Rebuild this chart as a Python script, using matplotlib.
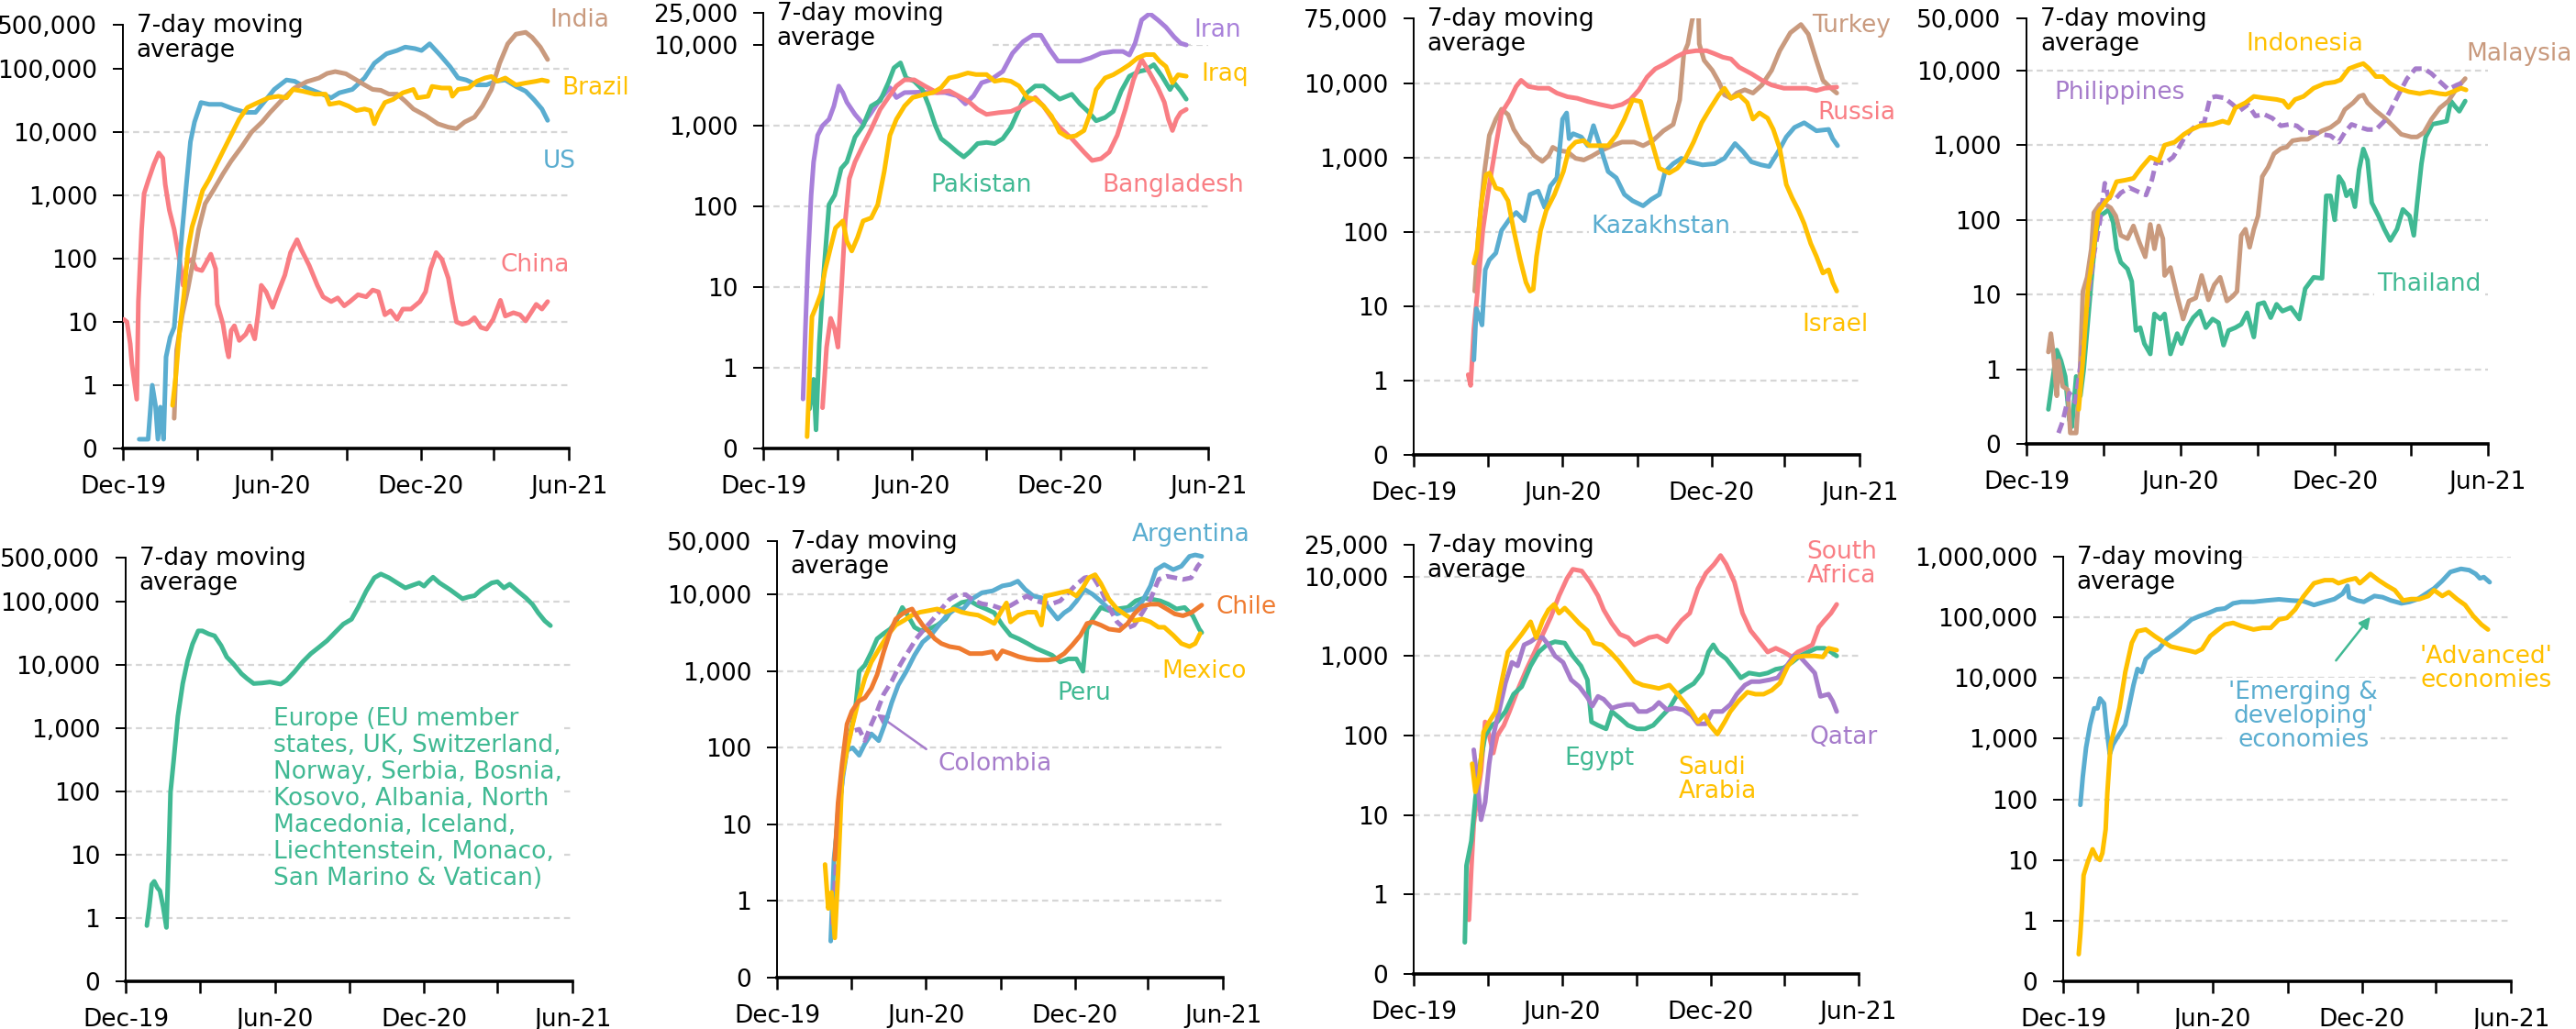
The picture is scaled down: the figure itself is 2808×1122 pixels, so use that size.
import matplotlib
matplotlib.use("Agg")
import matplotlib.pyplot as plt
import pandas as pd

plt.rcParams["font.family"] = ["DejaVu Sans"]
FS = 19

START = pd.Timestamp("2019-12-01")
END = pd.Timestamp("2021-06-01")

PINK = "#F97E84"
BLUE = "#5AADD0"
GOLD = "#FFC000"
TAN = "#C99A7E"
GREEN = "#40B993"
PURPLE = "#A67CCB"
ORANGE = "#EF7B30"
GRID = "#D6D6D6"

# ---------------------------------------------------------------------------
# Data: (days since 1 Dec 2019, 7-day average of new cases)
# ---------------------------------------------------------------------------

CHINA = [(1, 11), (5, 10), (9, 4.5), (11, 2.2), (17, 0.6), (19, 21), (23, 290), (26, 1070), (31, 1700),
         (38, 3100), (44, 4700), (49, 3900), (52, 1500), (57, 590), (63, 290), (70, 88), (74, 38), (79, 88),
         (85, 98), (90, 69), (97, 65), (108, 118), (114, 69), (116, 19), (123, 9.2), (128, 3.6), (130, 2.8),
         (133, 7.3), (137, 8.7), (143, 5.1), (151, 6.4), (156, 8.7), (162, 5.4), (166, 13), (170, 38),
         (176, 30), (184, 17), (191, 30), (199, 55), (206, 125), (214, 200), (219, 141), (229, 78), (239, 38),
         (246, 25), (256, 21), (264, 24), (272, 18), (279, 21), (289, 27), (299, 25), (307, 32), (314, 30),
         (322, 13), (329, 15), (337, 11), (344, 16), (354, 16), (365, 21), (372, 30), (378, 69), (385, 125),
         (392, 98), (400, 49), (405, 21), (410, 10), (417, 9.2), (425, 9.8), (432, 11.7), (440, 8.2),
         (447, 7.7), (455, 11), (464, 22), (470, 12.4), (480, 14), (488, 13), (495, 10.4), (503, 15),
         (508, 19), (515, 16), (522, 21)]
US = [(20, 0.14), (31, 0.14), (36, 1.0), (40, 0.48), (43, 0.14), (46, 0.45), (50, 0.14), (53, 2.8), (58, 5.7),
      (63, 8.2), (68, 49), (73, 290), (78, 1500), (83, 7100), (88, 14500), (96, 29500), (106, 27600),
      (121, 27600), (136, 23300), (151, 20600), (163, 20600), (173, 29500), (186, 47500), (201, 67000),
      (211, 64000), (226, 50000), (241, 42000), (256, 35000), (266, 42000), (282, 47500), (297, 72000),
      (309, 123000), (324, 174000), (337, 196000), (347, 222000), (359, 210000), (367, 196000),
      (377, 250000), (390, 165000), (402, 109000), (412, 72000), (422, 67000), (435, 56000), (447, 56000),
      (458, 64000), (470, 67000), (483, 53000), (495, 44500), (505, 33000), (515, 23300), (522, 15400)]
INDIA = [(63, 0.3), (66, 3.6), (73, 13), (80, 34), (86, 88), (93, 290), (101, 740), (111, 1200), (123, 2200),
         (133, 3500), (146, 5900), (158, 10000), (171, 14500), (181, 20600), (196, 33000), (211, 50000),
         (226, 63000), (241, 72000), (251, 85000), (261, 91000), (274, 84000), (287, 67000), (297, 56000),
         (307, 47500), (317, 46000), (327, 40000), (337, 40000), (347, 31000), (357, 23300), (372, 18300),
         (387, 13600), (400, 12000), (410, 11400), (420, 14500), (432, 17300), (442, 26000), (453, 47500),
         (463, 123000), (473, 250000), (483, 355000), (495, 380000), (503, 316000), (513, 222000),
         (522, 141000)]
BRAZIL = [(61, 0.48), (65, 1.4), (70, 8.2), (75, 27), (80, 141), (85, 320), (90, 520), (98, 1200), (106, 1800),
          (113, 2750), (123, 5000), (133, 9000), (143, 16200), (153, 24600), (166, 29500), (179, 35000),
          (191, 37000), (201, 35000), (209, 47500), (221, 44500), (236, 40000), (249, 40000), (254, 27600),
          (266, 29500), (277, 26000), (287, 22000), (297, 23300), (304, 22000), (309, 13600), (314, 19500),
          (322, 29500), (332, 33000), (344, 42000), (357, 47500), (362, 35000), (375, 37000), (380, 53000),
          (392, 50000), (402, 50000), (405, 37000), (412, 47500), (425, 50000), (435, 64000), (445, 72000),
          (453, 76000), (460, 64000), (470, 72000), (483, 56000), (495, 60000), (508, 64000), (515, 67000),
          (522, 64000)]

IRAN = [(49, 0.41), (52, 3.2), (55, 21), (59, 138), (62, 355), (67, 760), (73, 1000), (81, 1200), (87, 1750),
        (93, 3100), (98, 2570), (103, 1950), (113, 1380), (123, 1050), (133, 1450), (144, 2130), (156, 2950),
        (164, 2230), (174, 2570), (194, 2600), (209, 2570), (224, 2570), (239, 2340), (249, 1860), (259, 2340),
        (269, 3400), (280, 3700), (295, 4700), (307, 7900), (320, 11000), (332, 13200), (342, 13200),
        (353, 8700), (363, 6300), (375, 6300), (390, 6300), (403, 6900), (416, 7900), (431, 8300), (443, 8300),
        (451, 7500), (458, 10500), (466, 20400), (476, 24500), (486, 20400), (496, 16600), (506, 12600),
        (514, 10500), (521, 10000)]
IRAQ = [(54, 0.14), (57, 0.79), (60, 4.3), (65, 5.7), (71, 8.3), (76, 16), (83, 31), (89, 54), (98, 66),
        (103, 37), (109, 28), (116, 41), (123, 66), (133, 72), (141, 105), (149, 270), (156, 760), (164, 1200),
        (174, 1750), (184, 2230), (199, 2450), (209, 2570), (219, 2950), (229, 3900), (239, 4100), (252, 4500),
        (262, 4300), (275, 4300), (285, 3550), (295, 3700), (305, 3550), (315, 3100), (325, 2230), (335, 2130),
        (345, 1750), (355, 1320), (365, 830), (375, 720), (385, 750), (395, 870), (403, 1450), (410, 2800),
        (421, 3900), (431, 4270), (441, 4900), (451, 5700), (461, 6900), (471, 7600), (481, 7600), (488, 6300),
        (496, 5400), (504, 3400), (511, 4270), (521, 4100)]
PAKISTAN = [(57, 0.31), (62, 0.72), (65, 0.17), (69, 2), (74, 13), (81, 105), (88, 138), (96, 295), (103, 355),
            (113, 720), (123, 1000), (133, 1750), (144, 2040), (154, 3400), (161, 5200), (169, 6000),
            (176, 3900), (186, 3550), (196, 2800), (204, 1750), (212, 1000), (219, 690), (229, 575), (239, 470),
            (247, 410), (254, 470), (264, 600), (275, 620), (285, 600), (295, 690), (305, 950), (315, 1590),
            (325, 2570), (335, 3100), (345, 3100), (355, 2570), (365, 2130), (380, 2450), (390, 1860),
            (400, 1500), (410, 1150), (421, 1260), (431, 1500), (441, 2700), (451, 4100), (463, 4700),
            (471, 4900), (481, 5700), (491, 4100), (501, 2800), (506, 3400), (514, 2700), (521, 2130)]
BANGLADESH = [(73, 0.32), (78, 1.8), (83, 4.1), (88, 3), (92, 1.8), (96, 8.3), (101, 66), (106, 220),
              (113, 355), (123, 575), (133, 910), (144, 1590), (154, 2230), (164, 3100), (174, 3700),
              (186, 3700), (199, 3100), (214, 2570), (229, 2700), (244, 2230), (254, 1950), (264, 1590),
              (275, 1380), (290, 1450), (305, 1500), (315, 1660), (325, 1950), (335, 2230), (345, 1750),
              (355, 1260), (365, 950), (380, 690), (395, 470), (405, 370), (416, 390), (426, 470), (436, 760),
              (446, 1590), (456, 3700), (466, 6600), (476, 4500), (486, 2950), (494, 1950), (499, 1200),
              (504, 870), (509, 1200), (514, 1450), (521, 1590)]

RUSSIA = [(67, 1.2), (70, 0.86), (74, 5), (78, 14), (85, 105), (93, 435), (101, 1450), (108, 4000), (118, 6000),
          (126, 9100), (132, 11000), (141, 9100), (153, 8600), (166, 8600), (176, 7400), (189, 6600),
          (201, 6300), (214, 5700), (229, 5200), (244, 4800), (256, 5200), (266, 6000), (277, 8200),
          (287, 12200), (297, 15700), (309, 18300), (322, 22500), (334, 26200), (347, 27500), (360, 27500),
          (370, 25000), (380, 22500), (390, 21300), (400, 16500), (415, 13500), (428, 11000), (440, 9500),
          (455, 8600), (470, 8600), (483, 8600), (495, 8000), (505, 8600), (520, 8900)]
TURKEY = [(75, 16), (80, 105), (87, 650), (93, 2000), (101, 3300), (108, 4500), (116, 3800), (123, 2400),
          (133, 1620), (141, 1380), (148, 1070), (158, 890), (166, 1070), (171, 1380), (178, 1250), (189, 1200),
          (199, 980), (209, 930), (219, 1050), (231, 1250), (244, 1450), (256, 1620), (271, 1620), (282, 1450),
          (294, 1700), (307, 2300), (319, 2800), (327, 6000), (332, 25000), (337, 34000), (342, 69000),
          (346, 100000), (350, 100000), (351, 34000), (357, 20400), (367, 15000), (375, 10500), (382, 7000),
          (390, 6300), (397, 7400), (407, 8200), (417, 7400), (428, 9500), (440, 15000), (450, 27500),
          (463, 48000), (476, 62000), (485, 46000), (495, 20400), (503, 11000), (513, 8600), (520, 7400)]
KAZAKHSTAN = [(74, 1.9), (77, 9.3), (80, 7.6), (84, 5.6), (88, 31), (93, 42), (101, 52), (108, 105), (118, 150),
              (126, 183), (136, 142), (143, 320), (153, 355), (161, 215), (168, 415), (176, 535), (183, 3300),
              (188, 4000), (191, 1800), (196, 2100), (206, 1900), (214, 1450), (221, 2700), (229, 1450),
              (239, 650), (249, 535), (259, 320), (269, 263), (282, 225), (292, 275), (302, 320), (309, 650),
              (319, 830), (329, 980), (339, 880), (355, 800), (370, 830), (382, 980), (395, 1550), (405, 1200),
              (415, 880), (427, 800), (437, 760), (448, 1200), (458, 1900), (468, 2550), (480, 2950),
              (495, 2300), (510, 2400), (515, 1800), (521, 1450)]
ISRAEL = [(74, 38), (78, 57), (83, 236), (89, 590), (93, 620), (101, 390), (108, 370), (116, 263), (123, 105),
          (131, 42), (138, 21), (143, 16), (147, 17), (151, 47), (156, 105), (163, 195), (173, 320), (184, 650),
          (191, 1320), (199, 1620), (209, 1700), (216, 1450), (229, 1450), (239, 1450), (249, 2000),
          (259, 3300), (269, 6000), (279, 5700), (287, 2700), (294, 1450), (302, 720), (314, 620), (324, 720),
          (334, 980), (344, 1620), (354, 2950), (365, 4700), (375, 7000), (382, 8600), (390, 6300), (400, 7000),
          (410, 5500), (417, 3300), (425, 4000), (435, 3400), (442, 2400), (450, 1320), (458, 435), (465, 290),
          (473, 195), (480, 129), (488, 70), (495, 47), (503, 28), (510, 31), (515, 21), (520, 16)]

INDONESIA = [(62, 0.29), (67, 1.3), (73, 12), (79, 34), (85, 125), (93, 170), (100, 210), (107, 325),
             (117, 340), (127, 360), (137, 510), (147, 690), (157, 620), (164, 1000), (176, 1100), (187, 1400),
             (196, 1620), (206, 1820), (221, 1900), (233, 2100), (240, 1980), (248, 3160), (260, 3700),
             (270, 4500), (282, 4300), (297, 4100), (305, 3900), (311, 3200), (319, 4100), (329, 4500),
             (341, 5800), (354, 6700), (366, 7000), (373, 7500), (383, 10600), (393, 11700), (400, 12400),
             (407, 10600), (415, 8300), (423, 8300), (432, 6700), (442, 5800), (454, 5200), (467, 4900),
             (479, 5200), (491, 4900), (498, 4800), (506, 5200), (516, 5800), (522, 5500)]
PHILIPPINES = [(38, 0.14), (43, 0.2), (51, 0.48), (58, 0.36), (65, 1.3), (73, 8.2), (80, 34), (87, 92),
               (93, 310), (97, 205), (105, 187), (112, 230), (122, 270), (132, 240), (142, 215), (149, 345),
               (154, 600), (164, 570), (174, 690), (181, 930), (188, 1290), (196, 1620), (203, 1900),
               (211, 2000), (218, 4300), (225, 4500), (235, 4300), (245, 3500), (253, 2880), (263, 3500),
               (272, 2460), (282, 2600), (292, 2300), (302, 1820), (312, 1900), (321, 1820), (331, 1480),
               (341, 1480), (351, 1400), (361, 1340), (371, 1100), (378, 1480), (386, 1900), (395, 1750),
               (405, 1620), (415, 1620), (425, 2100), (432, 2880), (442, 4800), (452, 7800), (462, 10600),
               (472, 10600), (481, 9100), (491, 7100), (501, 5600), (511, 6400), (521, 7100)]
MALAYSIA = [(26, 1.7), (29, 3), (32, 1.6), (36, 0.44), (38, 1.3), (43, 0.59), (49, 0.53), (52, 0.14),
            (59, 0.14), (63, 0.65), (67, 11), (72, 17), (77, 41), (80, 125), (87, 162), (93, 162), (100, 145),
            (106, 113), (112, 62), (120, 56), (127, 83), (134, 50), (141, 32), (147, 87), (152, 41), (157, 83),
            (162, 56), (164, 18), (171, 23), (179, 9.5), (186, 4.7), (193, 8.2), (201, 9), (208, 18), (216, 8.5),
            (223, 13.5), (230, 17), (238, 8.2), (245, 9.5), (250, 11), (255, 62), (260, 75), (265, 43), (270, 75),
            (275, 113), (280, 380), (287, 510), (294, 770), (302, 900), (309, 940), (316, 1150), (326, 1200),
            (334, 1200), (341, 1340), (351, 1560), (361, 1730), (371, 2100), (378, 3000), (388, 3700),
            (395, 4500), (400, 4700), (405, 3700), (415, 2880), (425, 2340), (435, 1820), (445, 1400),
            (457, 1290), (464, 1290), (472, 1480), (481, 2230), (491, 3160), (501, 3900), (511, 5800),
            (521, 7800)]
THAILAND = [(26, 0.29), (31, 0.72), (36, 1.8), (41, 1.3), (46, 0.8), (51, 0.21), (54, 0.17), (59, 0.8),
            (64, 0.44), (68, 1), (73, 4.5), (77, 15), (82, 62), (87, 113), (93, 125), (98, 138), (103, 92),
            (107, 41), (112, 27), (120, 22), (125, 15), (130, 3.3), (135, 3.6), (140, 2.2), (147, 1.6),
            (152, 5.5), (159, 4.7), (164, 5.5), (171, 1.6), (179, 3), (184, 2.2), (191, 3.6), (198, 4.9),
            (206, 6), (213, 3.6), (221, 4.7), (228, 4.2), (234, 2.1), (240, 3.3), (248, 3.6), (255, 4),
            (262, 5.7), (270, 2.7), (275, 7.4), (282, 7.8), (290, 4.9), (297, 7.4), (304, 6), (314, 6.7),
            (324, 4.7), (331, 12), (341, 17), (351, 16.5), (356, 210), (361, 210), (366, 100), (371, 380),
            (376, 310), (380, 210), (385, 250), (390, 150), (395, 470), (400, 890), (405, 630), (410, 170),
            (418, 113), (425, 75), (432, 53), (440, 75), (447, 138), (455, 113), (460, 62), (464, 170),
            (469, 560), (474, 1280), (482, 1910), (491, 2000), (499, 2100), (504, 3900), (509, 3300),
            (514, 2850), (521, 3900)]

EUROPE = [(26, 0.76), (29, 1.5), (32, 3.4), (35, 3.8), (39, 3), (42, 2.7), (46, 1.5), (50, 0.71), (53, 12.6),
          (55, 98), (59, 324), (64, 1550), (70, 5100), (76, 11800), (82, 21500), (89, 34700), (94, 34700),
          (102, 31000), (109, 29000), (117, 20400), (124, 13400), (132, 10500), (142, 7300), (149, 6100),
          (157, 5100), (167, 5200), (177, 5400), (190, 5000), (197, 5700), (207, 7800), (217, 11200),
          (227, 15100), (237, 19100), (247, 24300), (257, 33000), (267, 44500), (277, 53000), (285, 81000),
          (295, 147000), (305, 240000), (313, 275000), (323, 240000), (333, 199000), (343, 166000),
          (353, 185000), (360, 199000), (366, 177000), (371, 208000), (377, 245000), (385, 199000),
          (398, 155000), (413, 112000), (421, 120000), (428, 125000), (436, 155000), (449, 199000),
          (456, 208000), (464, 166000), (471, 190000), (481, 147000), (491, 115000), (499, 91000),
          (506, 67000), (514, 50000), (521, 42000)]

ARGENTINA = [(66, 0.3), (70, 3.5), (75, 11.5), (81, 42), (86, 93), (93, 100), (101, 80), (108, 113), (116, 152),
             (125, 124), (134, 225), (141, 390), (149, 660), (159, 1000), (169, 1620), (179, 2400), (189, 2950),
             (199, 4000), (209, 5400), (219, 6500), (229, 6500), (239, 8700), (252, 10600), (265, 11200),
             (277, 13000), (287, 13600), (296, 15000), (305, 11700), (315, 9600), (325, 9100), (335, 6500),
             (345, 4800), (353, 5800), (360, 6500), (368, 8200), (378, 11700), (388, 10100), (398, 8200),
             (408, 6500), (418, 5600), (428, 6100), (439, 6500), (449, 8200), (459, 13000), (466, 21200),
             (476, 24600), (487, 21200), (497, 23500), (507, 31600), (514, 33000), (522, 31600)]
COLOMBIA = [(68, 0.49), (73, 3.5), (78, 21), (83, 84), (88, 137), (93, 166), (101, 175), (108, 124), (116, 204),
            (123, 300), (131, 500), (141, 740), (149, 1100), (156, 1470), (164, 2000), (171, 2650), (181, 3550),
            (192, 4800), (202, 6500), (212, 8700), (222, 10000), (232, 10000), (242, 8300), (252, 7600),
            (265, 7200), (277, 6500), (287, 7200), (297, 8300), (307, 9600), (318, 8300), (328, 7800),
            (338, 7600), (348, 8300), (358, 10600), (368, 13600), (378, 16600), (388, 17400), (398, 11700),
            (408, 6800), (418, 4400), (428, 3550), (439, 4000), (449, 5800), (459, 8700), (469, 15800),
            (479, 17400), (489, 16600), (499, 15800), (509, 16600), (517, 23500), (520, 25700)]
CHILE = [(71, 3.5), (75, 19), (80, 62), (86, 204), (92, 300), (100, 405), (108, 450), (116, 600), (123, 900),
         (131, 1780), (139, 3240), (146, 4800), (154, 5600), (161, 6200), (166, 6500), (171, 5300), (179, 4000),
         (187, 3240), (194, 2650), (202, 2300), (212, 2100), (224, 2000), (237, 1700), (252, 1700), (265, 1800),
         (270, 1450), (277, 1850), (287, 1700), (297, 1550), (308, 1450), (320, 1400), (333, 1400), (343, 1450),
         (353, 1700), (363, 2200), (373, 2950), (381, 4200), (388, 4400), (398, 4000), (408, 3550), (421, 3400),
         (431, 4200), (439, 5600), (449, 7100), (459, 7500), (469, 7500), (479, 6500), (489, 5600), (499, 5300),
         (509, 5800), (522, 7300)]
PERU = [(71, 3.5), (75, 15), (81, 51), (88, 124), (96, 300), (101, 1000), (108, 1200), (116, 1780), (123, 2650),
        (131, 3100), (139, 3550), (146, 4400), (154, 6800), (161, 5300), (169, 3750), (176, 3400), (187, 3550),
        (197, 4000), (207, 4800), (217, 6800), (227, 7900), (237, 8300), (247, 7200), (257, 6500), (267, 5800),
        (277, 4000), (287, 2950), (297, 2650), (308, 2300), (318, 2000), (328, 1800), (338, 1620), (348, 1320),
        (358, 1450), (368, 1450), (376, 1000), (381, 3550), (388, 4800), (398, 6800), (408, 6200), (418, 6500),
        (431, 6800), (441, 8300), (451, 9000), (461, 8700), (471, 8300), (481, 7500), (491, 6500), (501, 6800),
        (511, 5300), (519, 3550), (522, 3200)]
MEXICO = [(59, 3), (63, 0.8), (67, 1.3), (71, 0.33), (75, 2.2), (80, 42), (86, 93), (93, 204), (101, 450),
          (108, 810), (116, 1320), (126, 2000), (136, 2950), (146, 4000), (156, 4600), (166, 5400), (176, 5900),
          (187, 6200), (197, 6500), (207, 5900), (217, 6500), (227, 5900), (237, 5600), (247, 5400), (257, 4800),
          (267, 4200), (275, 5900), (282, 7800), (287, 4400), (297, 5400), (308, 5900), (318, 5900), (325, 4000),
          (330, 9600), (338, 10000), (348, 10600), (358, 11200), (368, 9600), (376, 12400), (383, 16600),
          (391, 18200), (398, 14000), (408, 8700), (418, 6500), (429, 5400), (439, 4600), (449, 4800),
          (459, 4400), (469, 3750), (476, 3750), (487, 2950), (497, 2300), (507, 2100), (514, 2300), (520, 3100)]

SOUTH_AFRICA = [(68, 0.48), (71, 2.1), (74, 7.8), (78, 16), (83, 36), (88, 148), (93, 100), (98, 60), (103, 100),
                (111, 134), (118, 200), (128, 370), (139, 680), (149, 1120), (159, 1870), (169, 3100), (179, 5700),
                (189, 9500), (196, 12300), (207, 11700), (217, 8500), (227, 5700), (234, 3800), (244, 2560),
                (254, 1870), (264, 1700), (272, 1380), (280, 1510), (290, 1700), (300, 1780), (312, 1510),
                (320, 2080), (330, 2800), (340, 3450), (350, 7000), (360, 11000), (370, 14200), (378, 18300),
                (385, 14200), (395, 8500), (405, 3450), (415, 2080), (426, 1510), (436, 1120), (446, 1250),
                (456, 1120), (466, 970), (473, 1120), (483, 1250), (491, 1380), (499, 2300), (506, 2800),
                (514, 3450), (521, 4450)]
EGYPT = [(63, 0.25), (65, 2.3), (71, 4.7), (76, 16), (81, 40), (88, 99), (96, 134), (103, 148), (113, 200),
         (123, 330), (133, 410), (144, 750), (154, 1120), (164, 1380), (174, 1510), (186, 1450), (196, 1000),
         (206, 750), (214, 500), (219, 148), (227, 134), (237, 121), (244, 200), (254, 165), (264, 134),
         (275, 121), (285, 121), (295, 134), (305, 172), (315, 220), (325, 330), (335, 390), (345, 450),
         (355, 610), (363, 1120), (369, 1380), (375, 1100), (385, 920), (395, 680), (403, 530), (413, 610),
         (426, 580), (436, 610), (446, 680), (456, 710), (466, 830), (476, 1000), (486, 1120), (496, 1250),
         (506, 1250), (514, 1120), (521, 1000)]
SAUDI = [(72, 44), (76, 19.5), (81, 32), (86, 110), (93, 148), (101, 200), (108, 455), (116, 1120), (123, 1380),
         (133, 1870), (144, 2690), (151, 1700), (159, 2800), (166, 3800), (173, 4450), (179, 3450), (186, 4000),
         (194, 3300), (204, 2560), (214, 2080), (222, 1450), (232, 1380), (242, 1120), (252, 870), (262, 645),
         (272, 475), (282, 430), (292, 410), (302, 390), (315, 430), (325, 330), (332, 270), (342, 200),
         (350, 148), (358, 180), (365, 134), (374, 104), (383, 148), (390, 200), (400, 270), (411, 350),
         (421, 330), (431, 330), (441, 370), (451, 455), (461, 750), (471, 970), (481, 1000), (494, 1000),
         (504, 970), (511, 1250), (521, 1180)]
QATAR = [(74, 66), (78, 29), (83, 8.7), (88, 14.4), (93, 44), (98, 99), (106, 220), (113, 455), (121, 830),
         (128, 750), (136, 1380), (144, 1510), (151, 1700), (159, 1700), (166, 1380), (174, 1000), (184, 830),
         (194, 500), (204, 410), (214, 300), (220, 234), (227, 310), (234, 285), (244, 220), (252, 234),
         (262, 245), (270, 245), (277, 200), (287, 200), (295, 220), (302, 260), (312, 210), (322, 220),
         (332, 210), (342, 180), (350, 140), (360, 140), (368, 200), (380, 200), (390, 245), (398, 330),
         (408, 430), (416, 475), (426, 475), (438, 500), (448, 530), (458, 710), (468, 1000), (476, 970),
         (486, 750), (494, 610), (501, 310), (511, 330), (516, 270), (521, 200)]

EMERGING = [(21, 81), (24, 235), (28, 710), (33, 1700), (38, 3160), (42, 3160), (45, 4600), (50, 3800),
            (53, 1500), (57, 560), (61, 800), (66, 1040), (71, 1330), (76, 1700), (81, 3600), (86, 7600),
            (91, 14100), (96, 12500), (101, 20500), (109, 26000), (117, 30000), (127, 44000), (137, 55000),
            (147, 70000), (157, 92000), (167, 105000), (178, 118000), (188, 135000), (198, 140000),
            (208, 170000), (218, 180000), (233, 180000), (249, 190000), (264, 198000), (279, 190000),
            (294, 185000), (307, 160000), (320, 180000), (332, 200000), (342, 245000), (348, 330000),
            (350, 215000), (360, 190000), (368, 180000), (381, 225000), (391, 215000), (401, 190000),
            (414, 170000), (424, 180000), (434, 200000), (444, 245000), (454, 300000), (464, 400000),
            (474, 560000), (487, 630000), (497, 600000), (505, 520000), (510, 440000), (515, 460000),
            (522, 380000)]
ADVANCED = [(19, 0.28), (21, 0.6), (23, 1.6), (25, 5.6), (30, 9.2), (36, 15), (41, 11), (45, 10), (48, 13),
            (52, 32), (54, 125), (58, 800), (63, 1500), (69, 3200), (76, 12500), (84, 38000), (91, 59000),
            (101, 63000), (112, 49000), (122, 40000), (132, 33000), (145, 30000), (155, 28000), (162, 26500),
            (170, 30000), (180, 49000), (190, 63000), (198, 76000), (208, 81000), (218, 72000), (233, 63000),
            (244, 67000), (254, 67000), (264, 92000), (274, 98000), (284, 135000), (294, 220000),
            (307, 365000), (320, 410000), (330, 410000), (337, 365000), (348, 410000), (358, 440000),
            (363, 365000), (370, 440000), (376, 520000), (386, 410000), (396, 335000), (406, 280000),
            (416, 190000), (426, 200000), (436, 200000), (447, 225000), (454, 280000), (464, 225000),
            (472, 260000), (482, 200000), (492, 160000), (502, 105000), (512, 76000), (520, 63000)]

EUROPE_NOTE = ("Europe (EU member\nstates, UK, Switzerland,\nNorway, Serbia, Bosnia,\n"
               "Kosovo, Albania, North\nMacedonia, Iceland,\nLiechtenstein, Monaco,\n"
               "San Marino & Vatican)")

DASH = (0, (2.4, 1.2))

# panel layout in figure pixels: left, right, top, bottom
PANELS = [
    dict(box=(134, 620, 27, 489), top=500000, gap={100000: 0.53},
         lines=[(CHINA, PINK, "-"), (US, BLUE, "-"), (INDIA, TAN, "-"), (BRAZIL, GOLD, "-")],
         labels=[("India", 561, 590000, TAN, "center"), ("Brazil", 581, 50000, GOLD, "center"),
                 ("US", 537, 3500, BLUE, "center"), ("China", 507, 80, PINK, "center")]),
    dict(box=(832, 1317, 14, 489), top=25000, gap={10000: 0.515},
         lines=[(IRAN, "#A880DA", "-"), (PAKISTAN, GREEN, "-"), (BANGLADESH, PINK, "-"), (IRAQ, GOLD, "-")],
         labels=[("Iran", 559, 15200, "#A880DA", "center"), ("Iraq", 569, 4300, GOLD, "center"),
                 ("Pakistan", 269, 185, GREEN, "center"), ("Bangladesh", 505, 185, PINK, "center")]),
    dict(box=(1541, 2027, 20, 496), top=75000, gap={},
         lines=[(TURKEY, TAN, "-"), (RUSSIA, PINK, "-"), (KAZAKHSTAN, BLUE, "-"), (ISRAEL, GOLD, "-")],
         labels=[("Turkey", 538, 59000, TAN, "center"), ("Russia", 545, 4000, PINK, "center"),
                 ("Kazakhstan", 304, 117, BLUE, "center"), ("Israel", 518, 5.6, GOLD, "center")]),
    dict(box=(2209, 2712, 20, 484), top=50000, gap={},
         lines=[(THAILAND, GREEN, "-"), (MALAYSIA, TAN, "-"), (PHILIPPINES, PURPLE, DASH), (INDONESIA, GOLD, "-")],
         labels=[("Indonesia", 330, 22700, GOLD, "center"), ("Malaysia", 585, 16700, TAN, "center"),
                 ("Philippines", 111, 5000, PURPLE, "center"), ("Thailand", 478, 13.8, GREEN, "center")]),
    dict(box=(137, 624, 608, 1070), top=500000, gap={100000: 0.5},
         lines=[(EUROPE, GREEN, "-")],
         labels=[]),
    dict(box=(847, 1333, 590, 1066), top=50000, gap={},
         lines=[(PERU, GREEN, "-"), (ARGENTINA, BLUE, "-"), (COLOMBIA, PURPLE, DASH), (MEXICO, GOLD, "-"),
                (CHILE, ORANGE, "-")],
         labels=[("Argentina", 509, 60000, BLUE, "center"), ("Chile", 577, 6800, ORANGE, "center"),
                 ("Mexico", 525, 1000, GOLD, "center"), ("Peru", 378, 520, GREEN, "center"),
                 ("Colombia", 268, 61, PURPLE, "center")],
         arrow=(186, 92, 120, 290, PURPLE)),
    dict(box=(1541, 2026, 594, 1062), top=25000, gap={},
         lines=[(SOUTH_AFRICA, PINK, "-"), (EGYPT, GREEN, "-"), (QATAR, PURPLE, "-"), (SAUDI, GOLD, "-")],
         labels=[("South\nAfrica", 484, 14200, PINK, "left"), ("Egypt", 229, 51, GREEN, "center"),
                 ("Saudi\nArabia", 326, 28, GOLD, "left"), ("Qatar", 488, 94, PURPLE, "left")]),
    dict(box=(2249, 2737, 607, 1070), top=1000000, gap={1000000: 0.40},
         lines=[(EMERGING, BLUE, "-"), (ADVANCED, GOLD, "-")],
         labels=[("'Emerging &\ndeveloping'\neconomies", 294, 2340, BLUE, "center"),
                 ("'Advanced'\neconomies", 518, 14200, GOLD, "center")],
         arrow=(332, 18000, 378, 110000, GREEN)),
]

W, H = 2808, 1122


def day(d):
    return START + pd.Timedelta(days=d)


def style_axis(ax, top, gap):
    ax.set_yscale("log")
    ax.set_xlim(START, END)
    ax.set_ylim(0.1, top)
    decades = [10 ** k for k in range(0, 7) if 10 ** k <= top]
    ticks = [0.1] + decades + ([top] if top not in decades else [])
    ax.set_yticks(ticks)
    ax.set_yticklabels(["0"] + [f"{int(t):,}" for t in ticks[1:]])
    ax.yaxis.set_minor_locator(matplotlib.ticker.NullLocator())
    for v in decades:
        ax.axhline(v, xmin=gap.get(v, 0), color=GRID, lw=1.6, ls=(0, (3, 2)), zorder=1)

    xt = pd.date_range(START, END, freq="3MS")
    ax.set_xticks(xt)
    ax.set_xticklabels([d.strftime("%b-%y") if d.month in (6, 12) else "" for d in xt])

    for s in ("top", "right"):
        ax.spines[s].set_visible(False)
    ax.spines["left"].set_linewidth(1.4)
    ax.spines["bottom"].set_linewidth(2.6)
    ax.tick_params(axis="y", direction="out", length=8, width=1.4, pad=12, labelsize=FS)
    ax.tick_params(axis="x", direction="out", length=9, width=1.8, pad=12, labelsize=FS)
    ax.text(0.03, 1.025, "7-day moving\naverage", transform=ax.transAxes, ha="left", va="top",
            fontsize=FS, linespacing=1.05, zorder=2)


fig = plt.figure(figsize=(W / 100, H / 100), dpi=100)

for p in PANELS:
    left, right, top_px, bottom_px = p["box"]
    ax = fig.add_axes([left / W, 1 - bottom_px / H, (right - left) / W, (bottom_px - top_px) / H])
    style_axis(ax, p["top"], p["gap"])

    for i, (pts, color, ls) in enumerate(p["lines"]):
        days, vals = zip(*pts)
        ax.plot([day(d) for d in days], vals, color=color, lw=3.6, ls=ls,
                solid_joinstyle="round", solid_capstyle="round", zorder=3 + i)

    for text, d, v, color, ha in p["labels"]:
        ax.text(day(d), v, text, color=color, fontsize=FS, ha=ha, va="center", linespacing=1.0,
                bbox=dict(boxstyle="square,pad=0.1", fc="white", ec="none"), zorder=2)

    if "arrow" in p:
        d0, v0, d1, v1, color = p["arrow"]
        ax.annotate("", xy=(day(d1), v1), xytext=(day(d0), v0),
                    arrowprops=dict(arrowstyle="-|>", color=color, lw=1.8, mutation_scale=18), zorder=2)

    if p["lines"][0][0] is EUROPE:
        ax.text(day(181), 2200, EUROPE_NOTE, color=GREEN, fontsize=FS, ha="left", va="top",
                linespacing=1.15, bbox=dict(boxstyle="square,pad=0.1", fc="white", ec="none"), zorder=2)

fig.savefig("out.png", dpi=100)
